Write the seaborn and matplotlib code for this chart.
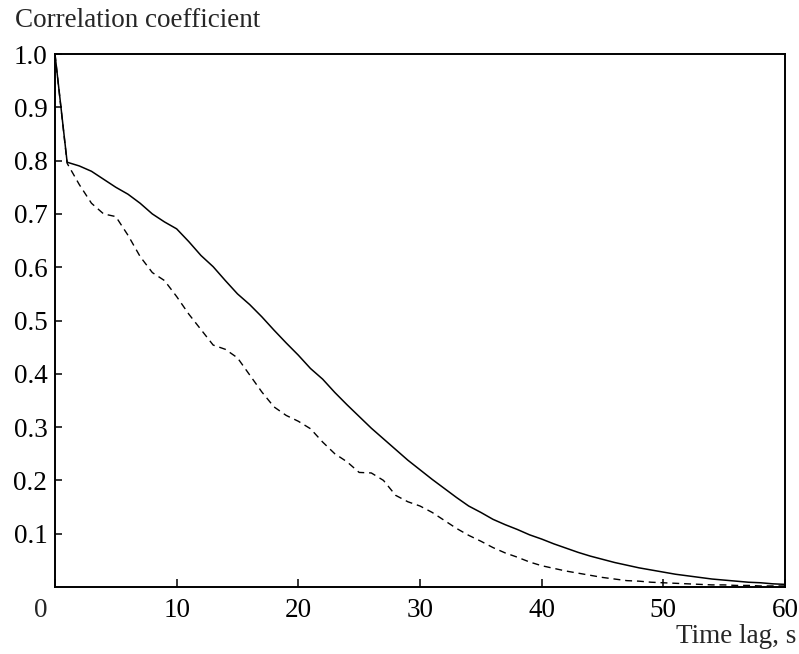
import matplotlib
matplotlib.use('Agg')
import matplotlib.pyplot as plt
import pandas as pd
import seaborn as sns

# Time lag, s
lag = list(range(0, 61))

# Correlation coefficient, solid curve
solid = [1.0, 0.797, 0.79, 0.78, 0.765, 0.75, 0.737, 0.72, 0.70, 0.685,
         0.672, 0.648, 0.622, 0.601, 0.575, 0.55, 0.53, 0.507, 0.482, 0.458,
         0.435, 0.41, 0.39, 0.365, 0.342, 0.32, 0.298, 0.278, 0.258, 0.238,
         0.22, 0.202, 0.185, 0.168, 0.152, 0.14, 0.127, 0.117, 0.108, 0.098,
         0.09, 0.081, 0.073, 0.065, 0.058, 0.052, 0.046, 0.041, 0.036, 0.032,
         0.028, 0.024, 0.021, 0.018, 0.015, 0.013, 0.011, 0.009, 0.008, 0.006,
         0.005]

# Correlation coefficient, dashed curve
dashed = [1.0, 0.795, 0.755, 0.72, 0.70, 0.695, 0.66, 0.62, 0.59, 0.575,
          0.545, 0.512, 0.483, 0.454, 0.446, 0.43, 0.398, 0.366, 0.338, 0.322,
          0.311, 0.297, 0.272, 0.25, 0.235, 0.215, 0.214, 0.20, 0.172, 0.16,
          0.152, 0.14, 0.125, 0.11, 0.097, 0.086, 0.074, 0.064, 0.056, 0.047,
          0.04, 0.035, 0.03, 0.026, 0.022, 0.018, 0.015, 0.012, 0.011, 0.009,
          0.008, 0.007, 0.006, 0.005, 0.004, 0.004, 0.003, 0.003, 0.002, 0.002,
          0.002]

x_ticks = [0, 10, 20, 30, 40, 50, 60]
y_ticks = [0.1, 0.2, 0.3, 0.4, 0.5, 0.6, 0.7, 0.8, 0.9, 1.0]

sns.set_theme(style='ticks')
plt.rcParams['font.family'] = ['Liberation Serif', 'DejaVu Serif']

df = pd.DataFrame({'lag': lag, 'solid': solid, 'dashed': dashed})

fs = 19.5
fig = plt.figure(figsize=(7.99, 6.54), dpi=100)
ax = fig.add_axes([0.0688, 0.1024, 0.9137, 0.815])

sns.lineplot(data=df, x='lag', y='solid', ax=ax, color='black', lw=1.1)
sns.lineplot(data=df, x='lag', y='dashed', ax=ax, color='black', lw=1.0,
             linestyle=(0, (5, 3.5)))

ax.set_xlim(0, 60)
ax.set_ylim(0, 1.0)
ax.set_xticks(x_ticks)
ax.set_xticklabels([''] + [str(t) for t in x_ticks[1:]])
ax.set_yticks(y_ticks)
ax.set_yticklabels([f'{t:.1f}' for t in y_ticks])
ax.tick_params(direction='in', length=5, width=1.1, labelsize=fs,
               colors='black', pad=5.5)
ax.tick_params(axis='x', length=6, pad=8)
for s in ax.spines.values():
    s.set_visible(True)
    s.set_linewidth(1.4)
    s.set_color('black')

ax.set_xlabel('')
ax.set_ylabel('')
# origin label sits left of the corner
ax.annotate('0', xy=(0, 0), xycoords='axes fraction', xytext=(-10, -8),
            textcoords='offset points', ha='center', va='top', fontsize=fs)
fig.text(0.019, 0.969, 'Correlation coefficient', ha='left', va='center',
         fontsize=fs)
fig.text(0.997, 0.026, 'Time lag, s', ha='right', va='center', fontsize=fs)

fig.savefig('out.png', dpi=100)
